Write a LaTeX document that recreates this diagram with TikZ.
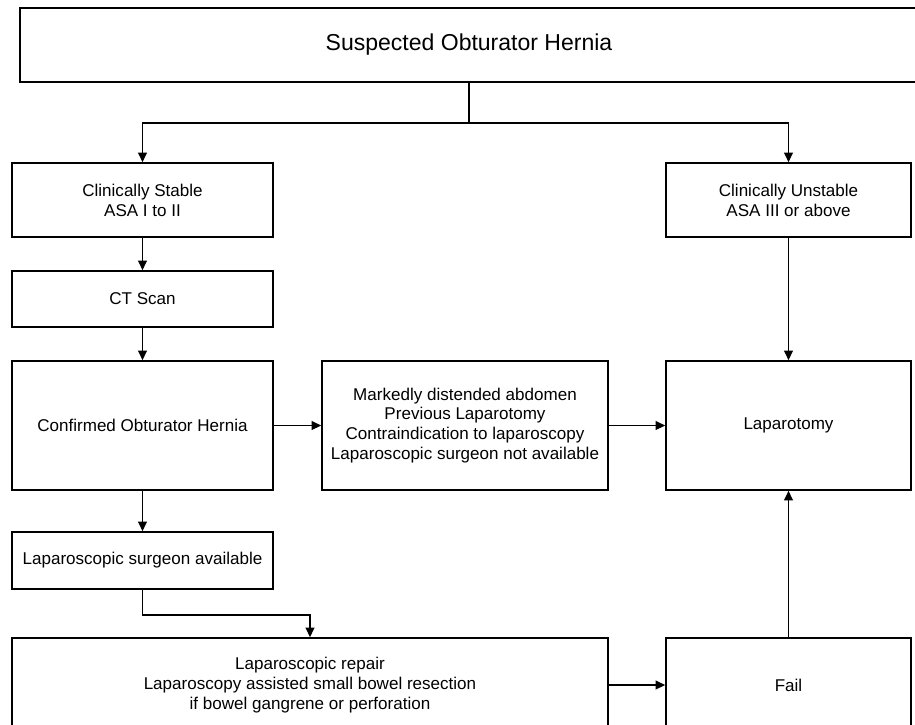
\documentclass[tikz,border=0pt]{standalone}
\usepackage{fontspec}
\setmainfont{Liberation Sans}
\usepackage{tikz}
\usetikzlibrary{arrows.meta, positioning, calc}

\tikzset{
  box/.style={draw, line width=0.9pt, inner sep=0pt, align=center,
    font=\fontsize{9.7}{11.3}\selectfont},
  arr/.style={line width=0.9pt, -{Triangle[length=5.5pt,width=5pt]}},
  link/.style={line width=0.9pt}
}

\begin{document}
\begin{tikzpicture}[x=0.02cm, y=0.02cm]
\useasboundingbox (0,0) rectangle (915,-724);

% Top
\node[box, minimum width=17.96cm, minimum height=1.48cm, font=\fontsize{13.1}{15}\selectfont]
  (suspect) at (469,-45) {Suspected Obturator Hernia};

% Left column
\node[box, minimum width=5.22cm, minimum height=1.48cm] (stable) at (142.5,-200)
  {Clinically Stable\\ASA I to II};
\node[box, minimum width=5.22cm, minimum height=1.12cm] (ct) at (142.5,-299) {CT Scan};
\node[box, minimum width=5.22cm, minimum height=2.58cm] (confirmed) at (142.5,-425.5)
  {Confirmed Obturator Hernia};
\node[box, minimum width=5.22cm, minimum height=1.14cm] (surgeon) at (142.5,-560.5)
  {Laparoscopic surgeon available};
\node[box, minimum width=11.92cm, minimum height=1.88cm] (repair) at (310,-685)
  {Laparoscopic repair\\Laparoscopy assisted small bowel resection\\if bowel gangrene or perforation};

% Middle
\node[box, minimum width=5.72cm, minimum height=2.58cm] (contra) at (465,-425.5)
  {Markedly distended abdomen\\Previous Laparotomy\\Contraindication to laparoscopy\\Laparoscopic surgeon not available};

% Right column
\node[box, minimum width=4.9cm, minimum height=1.48cm] (unstable) at (788.5,-200)
  {Clinically Unstable\\ASA III or above};
\node[box, minimum width=4.9cm, minimum height=2.58cm] (laparotomy) at (788.5,-425.5) {Laparotomy};
\node[box, minimum width=4.9cm, minimum height=1.88cm] (fail) at (788.5,-685) {Fail};

% Connectors
\draw[link] (suspect.south) -- ++(0,-40) coordinate (split);
\draw[arr] (split) -| (stable.north);
\draw[arr] (split) -| (unstable.north);
\draw[arr] (stable) -- (ct);
\draw[arr] (ct) -- (confirmed);
\draw[arr] (confirmed) -- (surgeon);
\draw[arr] (surgeon.south) -- ++(0,-25) -| (repair.north);
\draw[arr] (confirmed) -- (contra);
\draw[arr] (contra) -- (laparotomy);
\draw[arr] (unstable) -- (laparotomy);
\draw[arr] (repair) -- (fail);
\draw[arr] (fail) -- (laparotomy);
\end{tikzpicture}
\end{document}
